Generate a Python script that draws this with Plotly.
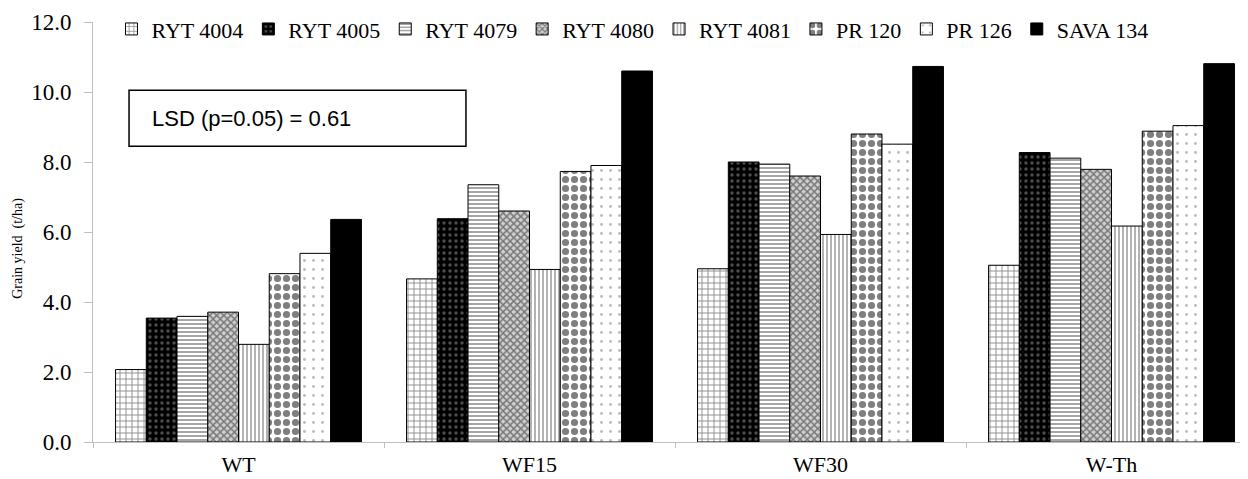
import plotly.graph_objects as go

categories = ["WT", "WF15", "WF30", "W-Th"]
series_names = ["RYT 4004", "RYT 4005", "RYT 4079", "RYT 4080", "RYT 4081", "PR 120", "PR 126", "SAVA 134"]
ryt4004 = [2.07, 4.66, 4.95, 5.05]
ryt4005 = [3.54, 6.38, 8.00, 8.27]
ryt4079 = [3.59, 7.35, 7.94, 8.11]
ryt4080 = [3.71, 6.60, 7.60, 7.79]
ryt4081 = [2.79, 4.93, 5.93, 6.17]
pr120 = [4.81, 7.73, 8.80, 8.88]
pr126 = [5.39, 7.90, 8.51, 9.04]
sava134 = [6.36, 10.60, 10.73, 10.81]
y_ticks = [0, 2, 4, 6, 8, 10, 12]
lsd_text = "LSD (p=0.05) = 0.61"

values = [ryt4004, ryt4005, ryt4079, ryt4080, ryt4081, pr120, pr126, sava134]
patterns = [
    dict(shape="+", fgcolor="#222222", bgcolor="white", size=6, solidity=0.3),
    dict(shape=".", fgcolor="#9a9a9a", bgcolor="black", size=6, solidity=0.25),
    dict(shape="-", fgcolor="black", bgcolor="white", size=4, solidity=0.35),
    dict(shape="x", fgcolor="#202020", bgcolor="#d0d0d0", size=5, solidity=0.5),
    dict(shape="|", fgcolor="black", bgcolor="white", size=4, solidity=0.3),
    dict(shape=".", fgcolor="black", bgcolor="white", size=9, solidity=0.5),
    dict(shape=".", fgcolor="#777777", bgcolor="white", size=9, solidity=0.08),
    dict(shape="", fgcolor="black", bgcolor="black"),
]

fig = go.Figure()
for name, vals, pat in zip(series_names, values, patterns):
    fig.add_trace(go.Bar(
        x=categories, y=vals, name=name,
        marker=dict(color="black" if pat["shape"] == "" else "white",
                    pattern=pat,
                    line=dict(color="black", width=1)),
    ))

serif = "Liberation Serif"
fig.update_layout(
    width=1240, height=471,
    margin=dict(l=85, r=0, t=14, b=37, autoexpand=False),
    plot_bgcolor="white", paper_bgcolor="white",
    barmode="group", bargap=0.155, bargroupgap=0,
    font=dict(family=serif, color="black"),
    showlegend=True,
    legend=dict(orientation="h", xref="paper", x=0.016, xanchor="left",
                yref="paper", y=0.983, yanchor="middle",
                font=dict(family=serif, size=22, color="black"),
                bgcolor="rgba(0,0,0,0)", itemwidth=30, tracegroupgap=0),
    xaxis=dict(range=[-0.5, 3.469], showline=True, linecolor="#bfbfbf", linewidth=1,
               ticks="outside", tickson="boundaries", ticklen=5, tickcolor="#bfbfbf",
               tickfont=dict(family=serif, size=22, color="black"),
               ticklabelstandoff=3,
               showgrid=False, zeroline=False),
    yaxis=dict(range=[0, 12], tickvals=y_ticks, tickformat=".1f",
               showline=True, linecolor="#bfbfbf", linewidth=1,
               ticks="outside", ticklen=8, tickcolor="#bfbfbf",
               tickfont=dict(family=serif, size=23, color="black"),
               ticklabelstandoff=8,
               showgrid=False, zeroline=False),
)

fig.add_annotation(xref="paper", yref="paper", x=-0.0649, y=0.46,
                   xanchor="center", yanchor="middle",
                   text="Grain yield  (t/ha)", textangle=-90, showarrow=False,
                   font=dict(family=serif, size=14, color="black"))

fig.add_shape(type="rect", xref="paper", yref="paper",
              x0=0.0312, x1=0.3229, y0=0.704, y1=0.8374,
              line=dict(color="black", width=1.5), fillcolor="white")
fig.add_annotation(xref="paper", yref="paper", x=0.0494, y=0.7707,
                   xanchor="left", yanchor="middle", text=lsd_text, showarrow=False,
                   font=dict(family="Liberation Sans", size=22, color="black"))

fig.write_html("out.html")
